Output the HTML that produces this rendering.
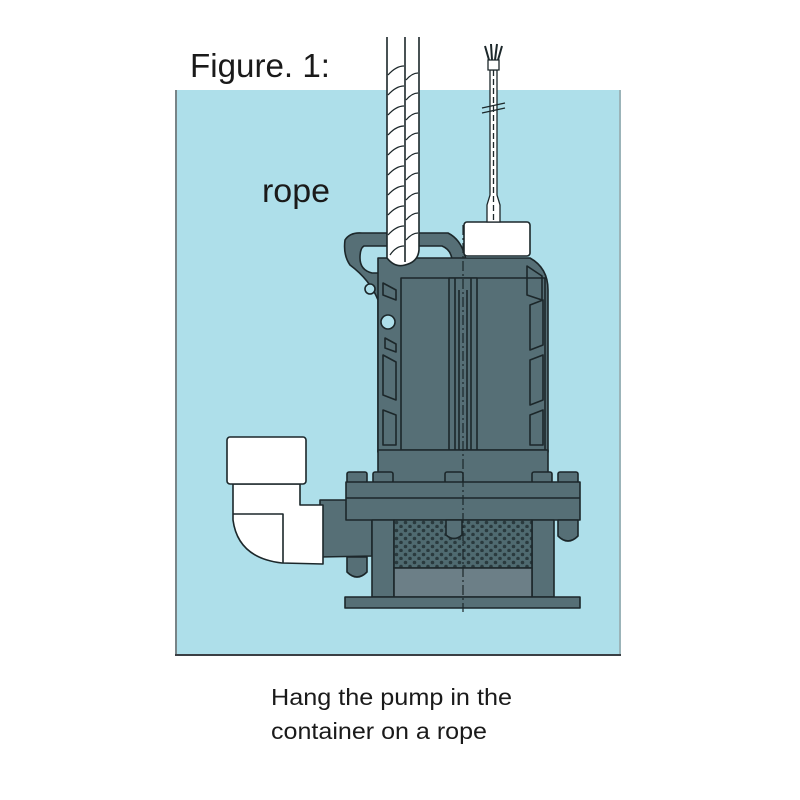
<!DOCTYPE html>
<html><head><meta charset="utf-8"><style>
html,body{margin:0;padding:0;background:#fff;}
svg{display:block;}
text{font-family:"Liberation Sans",sans-serif;fill:#1a1a1a;}
</style></head><body>
<svg width="800" height="800" viewBox="0 0 800 800" xmlns="http://www.w3.org/2000/svg">
<defs>
<pattern id="holes" x="394" y="520" width="9" height="8" patternUnits="userSpaceOnUse">
<rect width="9" height="8" fill="#4f6a70"/>
<circle cx="2.5" cy="2.5" r="1.8" fill="#2a3a3e"/>
<circle cx="7" cy="6.5" r="1.8" fill="#2a3a3e"/>
</pattern>
</defs>
<rect x="175" y="90" width="446" height="565" fill="#aedfea"/>
<line x1="176" y1="90" x2="176" y2="655" stroke="#666" stroke-width="1.5"/>
<line x1="620" y1="90" x2="620" y2="655" stroke="#888" stroke-width="1"/>
<line x1="175" y1="655" x2="621" y2="655" stroke="#3a3f44" stroke-width="2"/>

<text x="190" y="77" font-size="33" textLength="140" lengthAdjust="spacingAndGlyphs">Figure. 1:</text>
<text x="262" y="202" font-size="33" textLength="68" lengthAdjust="spacingAndGlyphs">rope</text>
<text x="271" y="705" font-size="23" textLength="241" lengthAdjust="spacingAndGlyphs">Hang the pump in the</text>
<text x="271" y="739" font-size="23" textLength="216" lengthAdjust="spacingAndGlyphs">container on a rope</text>

<g stroke="#1c272a" stroke-width="1.6" stroke-linejoin="round">
<!-- handle -->
<path d="M378 452 L378 300 Q370 280 350 265 Q343 255 345 240 Q350 232 362 233 L448 233 Q462 240 466 260 L470 300 L470 452 Z" fill="#566f76"/>
<path d="M364 246 L442 246 Q452 250 452 262 Q450 272 440 273 L372 273 Q360 270 360 258 Q360 248 364 246 Z" fill="#aedfea"/>
<!-- motor -->
<path d="M378 258 L530 258 Q548 268 548 290 L548 452 L378 452 Z" fill="#566f76"/>
<rect x="401" y="278" width="144" height="172" fill="#566f76"/>
<rect x="449" y="278" width="28" height="172" fill="#566f76"/>
<line x1="455" y1="278" x2="455" y2="450"/>
<line x1="459" y1="290" x2="459" y2="450"/>
<line x1="467" y1="290" x2="467" y2="450"/>
<line x1="471" y1="278" x2="471" y2="450"/>
<path d="M383 283 L396 290 L396 300 L383 295 Z" fill="none"/>
<path d="M385 338 L396 344 L396 352 L385 348 Z" fill="none"/>
<path d="M383 355 L396 362 L396 400 L383 395 Z" fill="none"/>
<path d="M383 410 L396 415 L396 445 L383 445 Z" fill="none"/>
<circle cx="370" cy="289" r="5" fill="#aedfea"/>
<circle cx="388" cy="322" r="7" fill="#aedfea"/>
<path d="M527 266 L542 276 L542 300 L527 295 Z" fill="none"/>
<path d="M530 305 L543 300 L543 345 L530 350 Z" fill="none"/>
<path d="M530 360 L543 355 L543 400 L530 405 Z" fill="none"/>
<path d="M530 415 L543 410 L543 445 L530 445 Z" fill="none"/>
<rect x="464" y="222" width="66" height="34" rx="3" fill="#fff"/>
<rect x="378" y="450" width="170" height="33" fill="#566f76"/>
<rect x="347" y="472" width="20" height="11" rx="2" fill="#566f76"/>
<rect x="373" y="472" width="20" height="11" rx="2" fill="#566f76"/>
<rect x="445" y="472" width="18" height="11" rx="2" fill="#566f76"/>
<rect x="532" y="472" width="20" height="11" rx="2" fill="#566f76"/>
<rect x="558" y="472" width="20" height="11" rx="2" fill="#566f76"/>
<path d="M320 500 L350 500 Q372 502 372 520 L372 556 L320 557 Z" fill="#566f76"/>
<rect x="346" y="482" width="234" height="38" fill="#566f76"/>
<line x1="346" y1="498" x2="580" y2="498"/>
<rect x="372" y="520" width="22" height="77" fill="#566f76"/>
<rect x="532" y="520" width="22" height="77" fill="#566f76"/>
<rect x="394" y="520" width="138" height="48" fill="url(#holes)"/>
<rect x="394" y="568" width="138" height="29" fill="#6c7f87"/>
<path d="M446 520 L462 520 L462 535 Q454 542 446 535 Z" fill="#566f76"/>
<path d="M558 520 L578 520 L578 536 Q568 546 558 536 Z" fill="#566f76"/>
<path d="M347 557 L367 557 L367 572 Q357 582 347 572 Z" fill="#566f76"/>
<rect x="345" y="597" width="235" height="11" fill="#566f76"/>
<path d="M233 484 L233 520 Q238 558 282 563 L323 564 L323 505 L300 505 L300 484 Z" fill="#fff"/>
<path d="M233 514 L283 514 L283 563" fill="none"/>
<rect x="227" y="437" width="79" height="47" rx="3" fill="#fff"/>
</g>
<line x1="463" y1="225" x2="463" y2="612" stroke="#1c272a" stroke-width="1.2" stroke-dasharray="10 3 2 3"/>
<g stroke="#1c272a" stroke-width="1.6">
<path d="M387 37 L387 258 Q395 268 405 265 Q418 262 419 250 L419 37" fill="#fff"/>
<line x1="405" y1="37" x2="405" y2="262"/>
<g stroke-width="1.3" fill="none">
<path d="M388 75 Q396 66 404 66 M388 95 Q396 86 404 86 M388 115 Q396 106 404 106 M388 135 Q396 126 404 126 M388 155 Q396 146 404 146 M388 175 Q396 166 404 166 M388 195 Q396 186 404 186 M388 215 Q396 206 404 206 M388 235 Q396 226 404 226 M390 255 Q396 246 404 246"/>
<path d="M406 80 Q412 73 418 73 M406 100 Q412 93 418 93 M406 120 Q412 113 418 113 M406 140 Q412 133 418 133 M406 160 Q412 153 418 153 M406 180 Q412 173 418 173 M406 200 Q412 193 418 193 M406 220 Q412 213 418 213 M406 240 Q412 233 418 233"/>
</g>
</g>
<g stroke="#1c272a" stroke-width="1.3" fill="#fff">
<path d="M490 70 L490 195 L487 205 L487 222 L500 222 L500 205 L497 195 L497 70 Z"/>
<line x1="493.5" y1="70" x2="493.5" y2="222" stroke-dasharray="6 3"/>
<path d="M488 60 L499 60 L499 70 L488 70 Z"/>
<path d="M489 60 L485 46 M492 60 L491 44 M495 60 L497 44 M498 60 L502 46" stroke-width="2"/>
<line x1="482" y1="108" x2="505" y2="103"/>
<line x1="482" y1="113" x2="505" y2="108"/>
</g>
</svg>
</body></html>
